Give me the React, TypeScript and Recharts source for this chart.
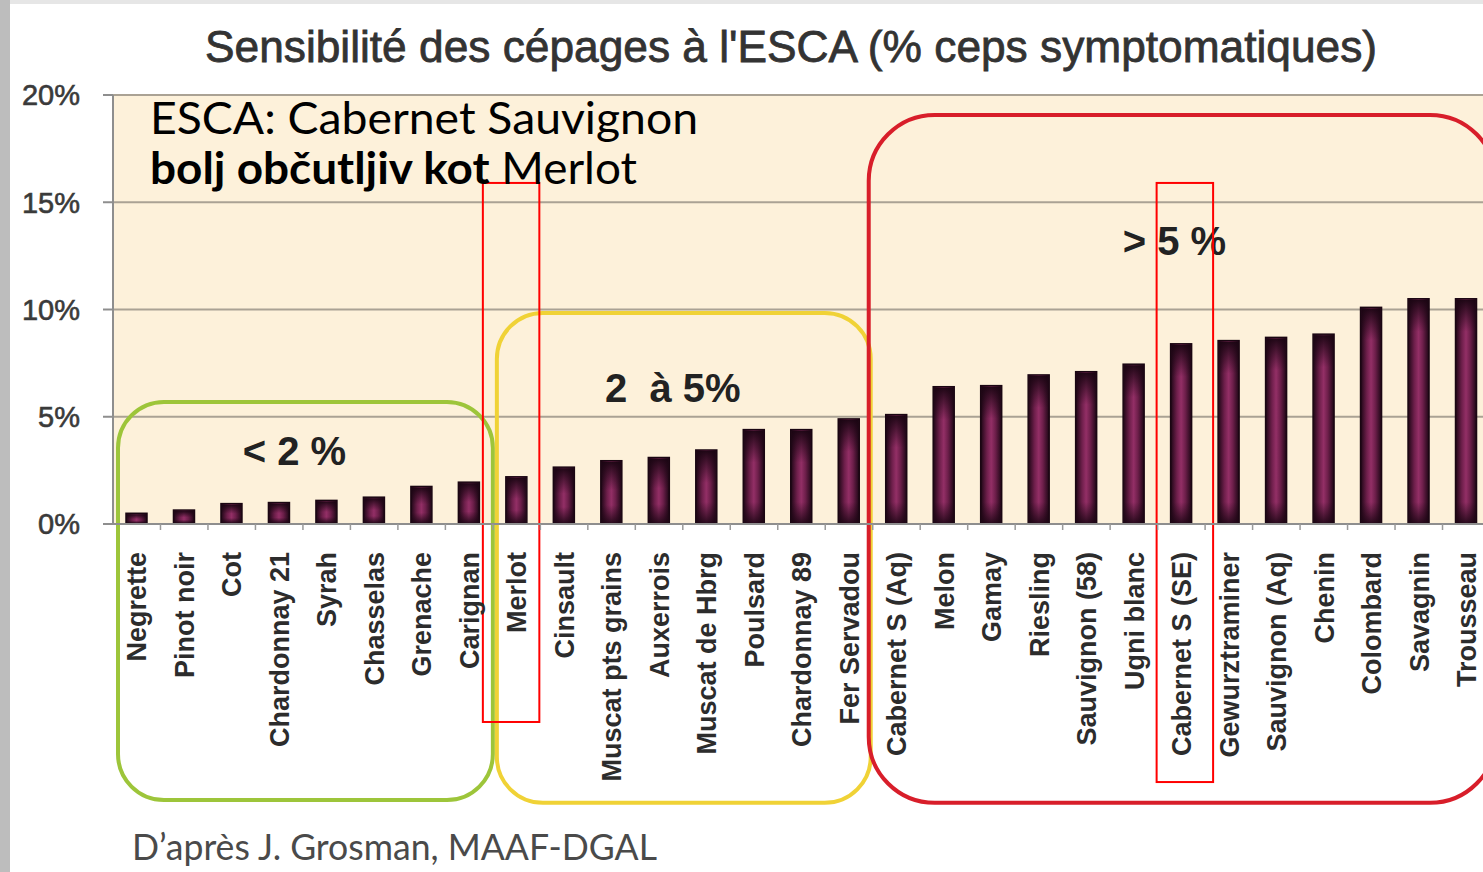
import React from 'react';
import { BarChart, Bar, XAxis, YAxis, CartesianGrid, ReferenceArea } from 'recharts';

const cepages = [
  'Negrette', 'Pinot noir', 'Cot', 'Chardonnay 21', 'Syrah', 'Chasselas', 'Grenache', 'Carignan',
  'Merlot', 'Cinsault', 'Muscat pts grains', 'Auxerrois', 'Muscat de Hbrg', 'Poulsard', 'Chardonnay 89',
  'Fer Servadou', 'Cabernet S (Aq)', 'Melon', 'Gamay', 'Riesling', 'Sauvignon (58)', 'Ugni blanc',
  'Cabernet S (SE)', 'Gewurztraminer', 'Sauvignon (Aq)', 'Chenin', 'Colombard', 'Savagnin', 'Trousseau',
];
const cepsSymptomatiques = [
  0.5, 0.65, 0.95, 1.0, 1.1, 1.25, 1.75, 1.95, 2.2, 2.65, 2.95, 3.1, 3.45, 4.4, 4.4, 4.9, 5.1,
  6.4, 6.45, 6.95, 7.1, 7.45, 8.4, 8.55, 8.7, 8.85, 10.1, 10.5, 10.5,
];
const yTicks = [0, 5, 10, 15, 20];

const data = cepages.map((name, i) => ({ name, value: cepsSymptomatiques[i] }));

const ARIAL = '"Liberation Sans", Arial, sans-serif';
const HUMANIST = 'Lato, "Noto Sans", sans-serif';

function CepageTick(props: any) {
  const { x, y, payload } = props;
  const half = payload?.offset ?? 23.7;
  return (
    <g>
      <line x1={x + half} x2={x + half} y1={y - 28} y2={y - 22} stroke="#9a9a9a" strokeWidth={1.5} />
      <text
        transform={`translate(${x},${y}) rotate(-90)`}
        textAnchor="end"
        dy="0.36em"
        fontFamily={ARIAL}
        fontWeight="bold"
        fontSize={27}
        fill="#2c2c2c"
      >
        {payload.value}
      </text>
    </g>
  );
}

function GrapeBar(props: any) {
  const { x, y, width, height } = props;
  if (!height || height <= 0) return null;
  const top = Math.min(32, height * 0.45);
  const bot = Math.min(22, height * 0.3);
  return (
    <g>
      <rect x={x} y={y} width={width} height={height} fill="url(#barH)" stroke="#1a0612" strokeWidth={1.5} />
      <rect x={x + 1} y={y + 1} width={width - 2} height={top} fill="url(#barTop)" />
      <rect x={x + 1} y={y + height - bot} width={width - 2} height={bot - 1} fill="url(#barBot)" />
    </g>
  );
}

const box =
  (stroke: string, rx: number, dl: number, dr: number, width = 4, label?: string, ldx = 0, ldy = 0) =>
  (p: any) => {
    const bx = p.x + dl;
    const bw = p.width - dl + dr;
    return (
      <g>
        <rect x={bx} y={p.y} width={bw} height={p.height} rx={rx} fill="none" stroke={stroke} strokeWidth={width} />
        {label && (
          <text
            x={bx + bw / 2 + ldx}
            y={p.y + ldy}
            textAnchor="middle"
            fontFamily={ARIAL}
            fontWeight="bold"
            fontSize={40}
            fill="#222"
            style={{ whiteSpace: 'pre' }}
          >
            {label}
          </text>
        )}
      </g>
    );
  };

export default function App() {
  return (
    <div
      style={{
        position: 'absolute',
        left: 0,
        top: 0,
        width: 1483,
        height: 872,
        overflow: 'hidden',
        background: '#ffffff',
      }}
    >
      <div style={{ position: 'absolute', left: 0, top: 0, width: 1483, height: 4, background: '#e6e6e6' }} />
      <div style={{ position: 'absolute', left: 0, top: 0, width: 10, height: 872, background: '#bdbdbd' }} />

      <svg width={0} height={0} style={{ position: 'absolute' }}>
        <defs>
          <linearGradient id="barH" x1="0" y1="0" x2="1" y2="0">
            <stop offset="0" stopColor="#1c0614" />
            <stop offset="0.3" stopColor="#6e1f4b" />
            <stop offset="0.5" stopColor="#932f66" />
            <stop offset="0.7" stopColor="#6e1f4b" />
            <stop offset="1" stopColor="#1c0614" />
          </linearGradient>
          <linearGradient id="barTop" x1="0" y1="0" x2="0" y2="1">
            <stop offset="0" stopColor="#1a0512" stopOpacity={0.95} />
            <stop offset="1" stopColor="#1a0512" stopOpacity={0} />
          </linearGradient>
          <linearGradient id="barBot" x1="0" y1="0" x2="0" y2="1">
            <stop offset="0" stopColor="#1a0512" stopOpacity={0} />
            <stop offset="1" stopColor="#1a0512" stopOpacity={0.85} />
          </linearGradient>
        </defs>
      </svg>

      <div style={{ position: 'absolute', left: 0, top: 0 }}>
        <BarChart width={1500} height={872} data={data} margin={{ top: 95, right: 10, left: 0, bottom: 0 }}>
          <CartesianGrid vertical={false} stroke="#aaa294" strokeWidth={2} fill="#fdf1da" />
          <XAxis
            dataKey="name"
            interval={0}
            height={348}
            tickSize={6}
            tickMargin={22}
            tickLine={false}
            axisLine={{ stroke: '#8e8e8e', strokeWidth: 2 }}
            tick={<CepageTick />}
          />
          <YAxis
            width={113}
            domain={[0, 20]}
            ticks={yTicks}
            tickFormatter={(v) => `${v}%`}
            tickSize={10}
            tickMargin={23}
            tickLine={{ stroke: '#8e8e8e', strokeWidth: 2 }}
            axisLine={{ stroke: '#8e8e8e', strokeWidth: 2 }}
            tick={{ fill: '#3a3a3a', stroke: '#3a3a3a', strokeWidth: 0.6, fontSize: 29, fontFamily: ARIAL }}
          />
          <Bar dataKey="value" barSize={21} shape={<GrapeBar />} isAnimationActive={false} />
          <ReferenceArea
            x1="Negrette"
            x2="Carignan"
            y1={-12.87}
            y2={5.69}
            ifOverflow="visible"
            shape={box('#9dc53a', 46, 5, 0, 4, '< 2 %', -11, 63)}
          />
          <ReferenceArea
            x1="Merlot"
            x2="Fer Servadou"
            y1={-13.0}
            y2={9.84}
            ifOverflow="visible"
            shape={box('#f0d236', 46, 4, -2, 4, '2  à 5%', -11, 89)}
          />
          <ReferenceArea
            x1="Cabernet S (Aq)"
            x2="Trousseau"
            y1={-13.0}
            y2={19.07}
            ifOverflow="visible"
            shape={box('#d81e2a', 66, -4, 6, 4, '> 5 %', -8, 140)}
          />
          <ReferenceArea
            x1="Merlot"
            x2="Merlot"
            y1={-9.23}
            y2={15.9}
            ifOverflow="visible"
            shape={box('#ff0000', 0, -10, -1, 2)}
          />
          <ReferenceArea
            x1="Cabernet S (SE)"
            x2="Cabernet S (SE)"
            y1={-12.03}
            y2={15.9}
            ifOverflow="visible"
            shape={box('#ff0000', 0, -1, 8, 2)}
          />
        </BarChart>
      </div>

      <svg width={1483} height={872} style={{ position: 'absolute', left: 0, top: 0, pointerEvents: 'none' }}>
        <text
          x={205}
          y={62}
          fontFamily={ARIAL}
          fontSize={44}
          fill="#333"
          stroke="#333"
          strokeWidth={0.8}
          textLength={1172}
          lengthAdjust="spacingAndGlyphs"
        >
          Sensibilité des cépages à l'ESCA (% ceps symptomatiques)
        </text>
        <text x={150} y={134} fontFamily={HUMANIST} fontSize={44} fill="#000" textLength={548} lengthAdjust="spacingAndGlyphs">
          ESCA: Cabernet Sauvignon
        </text>
        <text x={150} y={184} fontFamily={HUMANIST} fontSize={44} fill="#000" textLength={487} lengthAdjust="spacingAndGlyphs">
          <tspan fontWeight="bold">bolj občutljiv kot</tspan>
          <tspan> Merlot</tspan>
        </text>
        <text x={132} y={860} fontFamily={HUMANIST} fontSize={37} fill="#4a4a4a" textLength={525} lengthAdjust="spacingAndGlyphs">
          D’après J. Grosman, MAAF-DGAL
        </text>
      </svg>
    </div>
  );
}
